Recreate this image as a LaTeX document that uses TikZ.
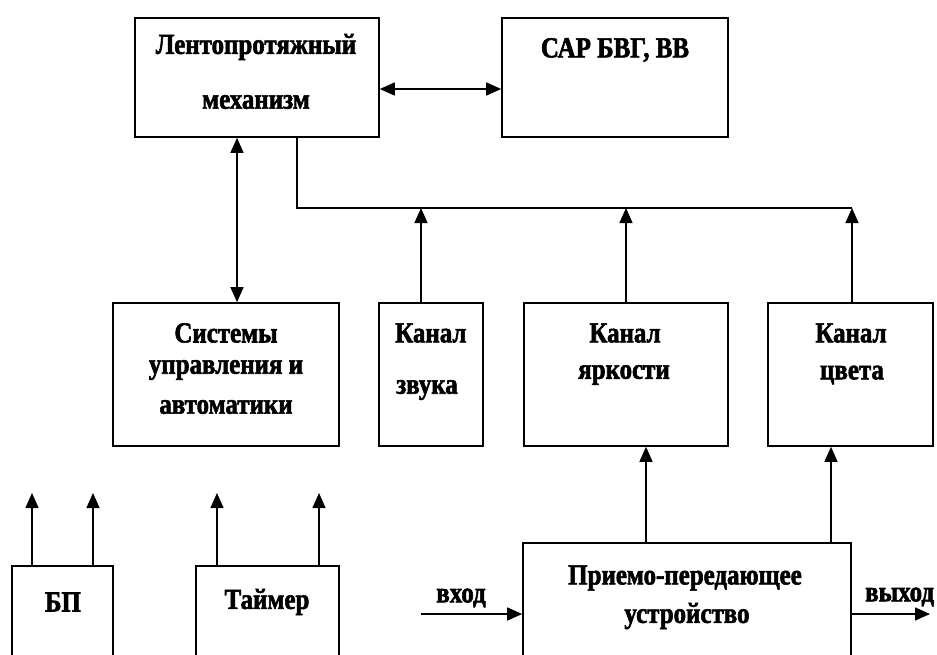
\documentclass[tikz,border=0pt]{standalone}
\usepackage{fontspec}
\setmainfont{Liberation Serif}[FakeStretch=0.86]
\newfontfamily\heavyfont{Liberation Serif}[FakeStretch=0.86,FakeBold=2,BoldFont={Liberation Serif Bold},BoldFeatures={FakeBold=2,FakeStretch=0.86}]
\usetikzlibrary{arrows.meta}
\begin{document}
\begin{tikzpicture}[x=1pt,y=-1pt,
  box/.style={draw, line width=1.6pt, rectangle, inner sep=0pt},
  txt/.style={inner sep=0pt, font=\heavyfont\fontsize{29}{32}\selectfont\bfseries},
  con/.style={line width=1.4pt},
  arr/.style={con, -{Triangle[length=15pt,width=13pt]}},
  darr/.style={con, {Triangle[length=15pt,width=13pt]}-{Triangle[length=15pt,width=13pt]}}]
\clip (0,0) rectangle (937,654);
\fill[white] (0,0) rectangle (937,654);
% boxes
\node[box, minimum width=244pt, minimum height=119pt] (lpm) at (257,77.5) {};
\node[box, minimum width=226pt, minimum height=119pt] (sar) at (615,77.5) {};
\node[box, minimum width=226pt, minimum height=143pt] (sys) at (226,374.5) {};
\node[box, minimum width=104pt, minimum height=143pt] (zvuk) at (431,374.5) {};
\node[box, minimum width=204pt, minimum height=143pt] (yark) at (626,374.5) {};
\node[box, minimum width=165pt, minimum height=143pt] (cvet) at (850.5,374.5) {};
\node[box, minimum width=101pt, minimum height=134pt] (bp) at (62.5,633) {};
\node[box, minimum width=143pt, minimum height=134pt] (tmr) at (267.5,633) {};
\node[box, minimum width=328pt, minimum height=157pt] (ppu) at (687,621.5) {};
% texts
\node[txt] (t1) at (256,47) {Лентопротяжный};
\node[txt] (t2) at (256,102) {механизм};
\node[txt] (t3) at (615,50) {САР БВГ, ВВ};
\node[txt] (t4) at (226,333) {Системы};
\node[txt] (t5) at (226,370) {управления и};
\node[txt] (t6) at (226,407) {автоматики};
\node[txt, anchor=west] (t7) at (395,333) {Канал};
\node[txt, anchor=west] (t8) at (396,390) {звука};
\node[txt] (t9) at (625,333) {Канал};
\node[txt] (t10) at (624,375) {яркости};
\node[txt] (t11) at (851,333) {Канал};
\node[txt] (t12) at (852,375) {цвета};
\node[txt] (t13) at (63,602) {БП};
\node[txt] (t14) at (267,602) {Таймер};
\node[txt] (t15) at (685,578) {Приемо-передающее};
\node[txt] (t16) at (687,616) {устройство};
\node[txt] (t17) at (461,598) {вход};
\node[txt, anchor=west] (t18) at (865,597) {выход};
% coordinates
\coordinate (h1) at (0,89);
\coordinate (v1) at (237,0);
\coordinate (busL) at (297,208);
\coordinate (busR) at (852,208);
\coordinate (a1) at (421,208);
\coordinate (a2) at (626,208);
\coordinate (b1) at (32,493);
\coordinate (b2) at (93,493);
\coordinate (c1) at (217,493);
\coordinate (c2) at (319,493);
\coordinate (p1) at (646,0);
\coordinate (p2) at (831,0);
\coordinate (in) at (421,614);
\coordinate (out) at (930,614);
% connectors
\draw[darr] (lpm.east |- h1) -- (sar.west |- h1);
\draw[darr] (lpm.south -| v1) -- (sys.north -| v1);
\draw[con] (lpm.south -| busL) -- (busL) -- (busR);
\draw[arr] (zvuk.north -| a1) -- (a1);
\draw[arr] (yark.north -| a2) -- (a2);
\draw[arr] (cvet.north -| busR) -- (busR);
\draw[arr] (bp.north -| b1) -- (b1);
\draw[arr] (bp.north -| b2) -- (b2);
\draw[arr] (tmr.north -| c1) -- (c1);
\draw[arr] (tmr.north -| c2) -- (c2);
\draw[arr] (ppu.north -| p1) -- (yark.south -| p1);
\draw[arr] (ppu.north -| p2) -- (cvet.south -| p2);
\draw[arr] (in) -- (ppu.west |- in);
\draw[arr] (ppu.east |- out) -- (out);
\end{tikzpicture}
\end{document}
